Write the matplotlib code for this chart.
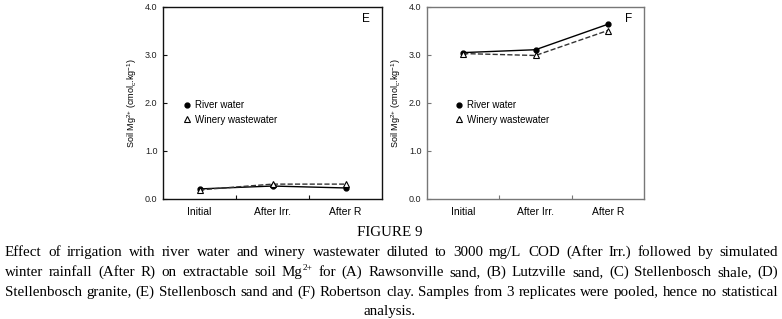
import matplotlib
matplotlib.use("Agg")
import matplotlib.pyplot as plt
from matplotlib.lines import Line2D

plt.rcParams['mathtext.fontset'] = 'custom'
plt.rcParams['mathtext.rm'] = 'Liberation Serif'
plt.rcParams['mathtext.sf'] = 'Liberation Sans'

categories = ["Initial", "After Irr.", "After R"]
river_E = [0.21, 0.27, 0.23]
winery_E = [0.19, 0.31, 0.31]
river_F = [3.05, 3.11, 3.64]
winery_F = [3.03, 2.99, 3.51]
yticks = [0.0, 1.0, 2.0, 3.0, 4.0]
series_names = ["River water", "Winery wastewater"]
caption_title = "FIGURE 9"
caption_lines = [
    "Effect of irrigation with river water and winery wastewater diluted to 3000 mg/L COD (After Irr.) followed by simulated",
    "winter rainfall (After R) on extractable soil Mg^2+ for (A) Rawsonville sand, (B) Lutzville sand, (C) Stellenbosch shale, (D)",
    "Stellenbosch granite, (E) Stellenbosch sand and (F) Robertson clay. Samples from 3 replicates were pooled, hence no statistical",
]
caption_last = "analysis."

W, H = 782, 319
fig = plt.figure(figsize=(W/100, H/100), dpi=100)

SANS = ['Liberation Sans', 'DejaVu Sans']
SERIF = ['Liberation Serif', 'DejaVu Serif']

def panel(rect, river, winery, letter, spine_color, legx):
    ax = fig.add_axes(rect)
    x = [0.5, 1.5, 2.5]
    ax.plot(x, river, '-', color='black', lw=1.0, marker='o', ms=3.5,
            mfc='black', mec='black', zorder=3)
    ax.plot(x, winery, '--', color='#333333', lw=1.0, marker='^', ms=4.5,
            mfc='white', mec='black', mew=0.8, zorder=4)
    ax.set_xlim(0, 3)
    ax.set_ylim(0, 4)
    ax.set_yticks(yticks)
    ax.set_yticklabels([f"{v:.1f}" for v in yticks], fontsize=6.5,
                       family=SANS, color='#222222')
    ax.set_xticks([1, 2])
    ax.set_xticklabels([])
    ax.set_xticks(x, minor=True)
    ax.set_xticklabels(categories, minor=True, fontsize=7.5, family=SANS)
    ax.tick_params(axis='x', which='minor', length=0, pad=6)
    ax.tick_params(axis='x', which='major', direction='in', length=3,
                   color=spine_color)
    ax.tick_params(axis='y', direction='in', length=3, pad=4,
                   color=spine_color)
    for s in ax.spines.values():
        s.set_color(spine_color)
        s.set_linewidth(1.0)
    ax.set_ylabel("Soil Mg$\\mathsf{^{2{+}}}$ (cmol$\\mathsf{_{c}}$.kg$\\mathsf{^{-1}}$)",
                  fontsize=6.5, family=SANS, labelpad=4)
    ax.text(0.945, 0.935, letter, transform=ax.transAxes, fontsize=8.5,
            family=SANS, ha='right', va='center')
    handles = [Line2D([], [], ls='none', marker='o', ms=3.5, mfc='black', mec='black'),
               Line2D([], [], ls='none', marker='^', ms=4.5, mfc='white', mec='black', mew=0.8)]
    ax.legend(handles, series_names, loc='upper left',
              bbox_to_anchor=(legx, 0.555), frameon=False,
              prop={'family': SANS, 'size': 7}, handlelength=0.6,
              handletextpad=0.5, labelspacing=0.45, borderpad=0.3)
    return ax

panel([163/W, 1-199/H, 219/W, 192/H], river_E, winery_E, "E", '#111111', 0.06)
panel([427/W, 1-199/H, 217/W, 192/H], river_F, winery_F, "F", '#777777', 0.10)

fig.canvas.draw()
renderer = fig.canvas.get_renderer()

x0, x1 = 5, 778
probe = 10.0
nat = []
for line in (caption_lines[0], caption_lines[2]):
    t = fig.text(0, 0, line, fontsize=probe, family=SERIF)
    nat.append(t.get_window_extent(renderer).width)
    t.remove()
fs = probe * (x1 - x0 - 6) / max(nat)

fig.text(390/W, 1-233/H, caption_title, ha='center', va='center',
         fontsize=fs, family=SERIF)

ys = [252, 272, 292]
for line, yc in zip(caption_lines, ys):
    words = line.split(' ')
    items = []   # list of (list of (text, dx)), width
    for w in words:
        if '^' in w:
            base, sup = w.split('^')
            tb = fig.text(0, 0, base, ha='left', va='baseline', fontsize=fs, family=SERIF)
            wb = tb.get_window_extent(renderer).width
            ts = fig.text(0, 0, sup, ha='left', va='baseline', fontsize=fs*0.62, family=SERIF)
            wsup = ts.get_window_extent(renderer).width
            items.append(([(tb, 0, 0), (ts, wb + 0.5, -fs*0.55)], wb + 0.5 + wsup))
        else:
            t = fig.text(0, 0, w, ha='left', va='baseline', fontsize=fs, family=SERIF)
            items.append(([(t, 0, 0)], t.get_window_extent(renderer).width))
    gap = (x1 - x0 - sum(i[1] for i in items)) / (len(items) - 1)
    pos = x0
    base_y = yc + 4
    for parts, wdt in items:
        for t, dx, dy in parts:
            t.set_x((pos + dx) / W)
            t.set_y(1 - (base_y + dy) / H)
        pos += wdt + gap
fig.text(390/W, 1-(311+4)/H, caption_last, ha='center', va='baseline',
         fontsize=fs, family=SERIF)

fig.savefig("out.png", dpi=100)
